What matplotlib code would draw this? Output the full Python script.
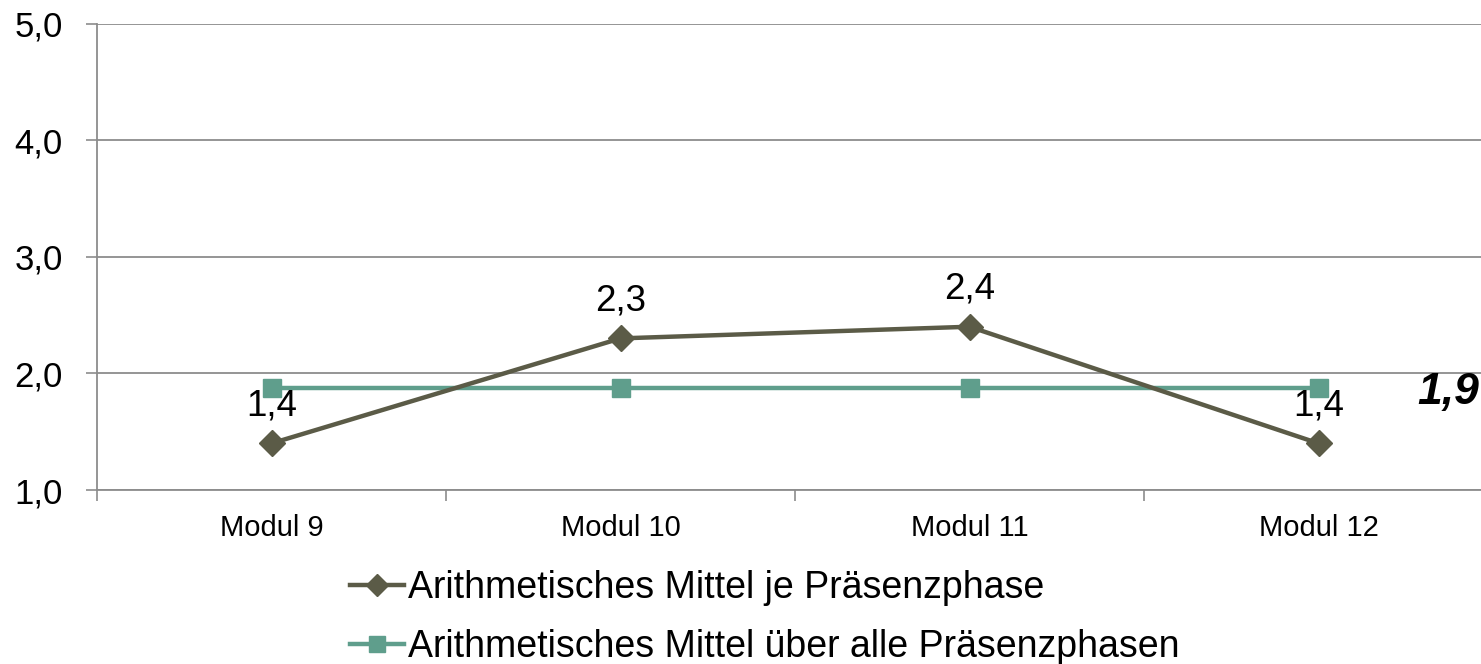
import matplotlib.pyplot as plt
import numpy as np

plt.rcParams['font.family'] = ['Liberation Sans', 'DejaVu Sans']

categories = ["Modul 9", "Modul 10", "Modul 11", "Modul 12"]
mean_per_phase = [1.4, 2.3, 2.4, 1.4]
mean_all = [1.875, 1.875, 1.875, 1.875]
y_ticks = [1.0, 2.0, 3.0, 4.0, 5.0]
series_names = ["Arithmetisches Mittel je Präsenzphase",
                "Arithmetisches Mittel über alle Präsenzphasen"]

dark = "#5b5b47"
teal = "#5f9e8c"
grid = "#8c8c8c"

fig = plt.figure(figsize=(14.81, 6.64), dpi=100)
ax = fig.add_axes([97/1481, 1-490/664, 1396/1481, (490-23.5)/664])

x = np.arange(len(categories))
l1, = ax.plot(x, mean_per_phase, color=dark, lw=3.2, marker="D", ms=13,
              label=series_names[0], zorder=3)
l2, = ax.plot(x, mean_all, color=teal, lw=3.2, marker="s", ms=13.5,
              label=series_names[1], zorder=2)

for xi, v in zip(x, mean_per_phase):
    ax.annotate(f"{v:.1f}".replace(".", ","), (xi, v), xytext=(0, 20),
                textcoords="offset points", ha="center", va="baseline", fontsize=26.5)

# label for the overall mean, right of the last point
ax.annotate(f"{mean_all[-1]:.1f}".replace(".", ","), (x[-1], mean_all[-1]),
            xytext=(71, -3), textcoords="offset points", ha="left", va="center",
            fontsize=32, fontweight="bold", fontstyle="italic")

ax.set_xlim(-0.5, 3.5)
ax.set_ylim(1.0, 5.0)
ax.set_yticks(y_ticks)
ax.set_yticklabels([f"{t:.1f}".replace(".", ",") for t in y_ticks], fontsize=25)
ax.set_xticks(x)
ax.set_xticklabels(categories, fontsize=21)
ax.set_xticks(np.arange(-0.5, 4.0, 1.0), minor=True)
ax.tick_params(axis="x", which="major", length=0, pad=17)
ax.tick_params(axis="x", which="minor", length=8, width=1.2, color=grid)
ax.tick_params(axis="y", length=8, width=1.2, color=grid, pad=16.5)

ax.grid(axis="y", color=grid, lw=1.3)
ax.set_axisbelow(True)
for s in ["top", "right"]:
    ax.spines[s].set_visible(False)
for s in ["left", "bottom"]:
    ax.spines[s].set_color(grid)
    ax.spines[s].set_linewidth(1.3)

fig.legend(handles=[l1, l2], loc="upper left", bbox_to_anchor=(350/1481, 1-570/664),
           frameon=False, fontsize=27, handlelength=1.45, handletextpad=0.1,
           labelspacing=0.62, borderpad=0, borderaxespad=0, markerscale=0.85)

fig.savefig("out.png", dpi=100)
